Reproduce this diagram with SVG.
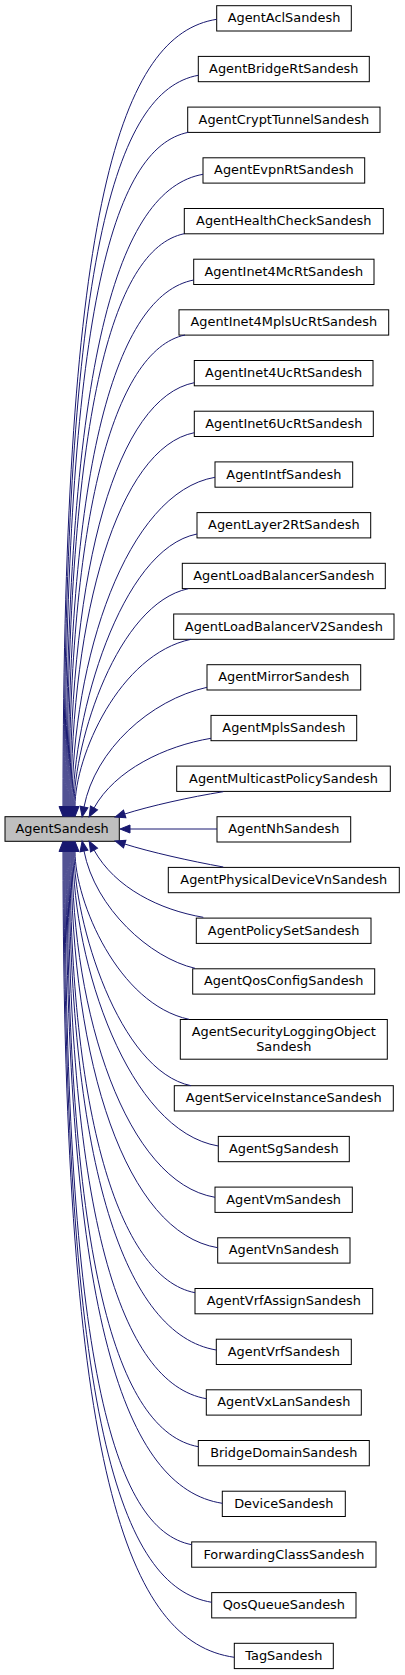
<svg xmlns="http://www.w3.org/2000/svg" width="405" height="1675" viewBox="0 0 405 1675">
<style>
.n rect{fill:#ffffff;stroke:#000000;stroke-width:1}
.n.main rect{fill:#bfbfbf}
.n text{font-family:"DejaVu Sans",sans-serif;font-size:12.9px;text-anchor:middle;fill:#000000}
.e path{fill:none;stroke:#191970;stroke-width:1;marker-end:url(#ah)}
</style>
<defs>
<marker id="ah" markerUnits="userSpaceOnUse" viewBox="0 -5 11 10" refX="0" refY="0" markerWidth="11" markerHeight="10" orient="auto" overflow="visible">
<path d="M0,-4 L10,0 L0,4 Z" fill="#191970" stroke="#191970" stroke-width="1"/>
</marker>
</defs>
<rect width="405" height="1675" fill="#ffffff"/>
<g id="nodes">
<g id="n_AgentSandesh" class="n main"><rect x="5" y="816.7" width="114.3" height="24.6"/><text x="62.1" y="833.2">AgentSandesh</text></g>
<g id="n0" class="n"><rect x="216.7" y="5.7" width="134.6" height="25.3"/><text x="284" y="22.35">AgentAclSandesh</text></g>
<g id="n1" class="n"><rect x="198.3" y="56.4" width="171" height="25.3"/><text x="283.8" y="73.05">AgentBridgeRtSandesh</text></g>
<g id="n2" class="n"><rect x="187.7" y="107.1" width="192.3" height="25.3"/><text x="283.85" y="123.75">AgentCryptTunnelSandesh</text></g>
<g id="n3" class="n"><rect x="203" y="157.8" width="161.7" height="25.3"/><text x="283.85" y="174.45">AgentEvpnRtSandesh</text></g>
<g id="n4" class="n"><rect x="184.3" y="208.5" width="199" height="25.3"/><text x="283.8" y="225.15">AgentHealthCheckSandesh</text></g>
<g id="n5" class="n"><rect x="193.7" y="259.2" width="180.3" height="25.3"/><text x="283.85" y="275.85">AgentInet4McRtSandesh</text></g>
<g id="n6" class="n"><rect x="179" y="309.8" width="209.7" height="25.3"/><text x="283.85" y="326.45">AgentInet4MplsUcRtSandesh</text></g>
<g id="n7" class="n"><rect x="194.3" y="360.5" width="178.7" height="25.3"/><text x="283.65" y="377.15">AgentInet4UcRtSandesh</text></g>
<g id="n8" class="n"><rect x="194.3" y="411.2" width="179" height="25.3"/><text x="283.8" y="427.85">AgentInet6UcRtSandesh</text></g>
<g id="n9" class="n"><rect x="215" y="461.9" width="137.7" height="25.3"/><text x="283.85" y="478.55">AgentIntfSandesh</text></g>
<g id="n10" class="n"><rect x="197" y="512.6" width="173.7" height="25.3"/><text x="283.85" y="529.25">AgentLayer2RtSandesh</text></g>
<g id="n11" class="n"><rect x="182.3" y="563.3" width="203" height="25.3"/><text x="283.8" y="579.95">AgentLoadBalancerSandesh</text></g>
<g id="n12" class="n"><rect x="173.7" y="614" width="220.3" height="25.3"/><text x="283.85" y="630.65">AgentLoadBalancerV2Sandesh</text></g>
<g id="n13" class="n"><rect x="207" y="664.7" width="153.7" height="25.3"/><text x="283.85" y="681.35">AgentMirrorSandesh</text></g>
<g id="n14" class="n"><rect x="211" y="715.4" width="145.7" height="25.3"/><text x="283.85" y="732.05">AgentMplsSandesh</text></g>
<g id="n15" class="n"><rect x="176.7" y="766.1" width="213.6" height="25.3"/><text x="283.5" y="782.75">AgentMulticastPolicySandesh</text></g>
<g id="n16" class="n"><rect x="217" y="816.7" width="133.7" height="25.3"/><text x="283.85" y="833.35">AgentNhSandesh</text></g>
<g id="n17" class="n"><rect x="168.3" y="867.4" width="231" height="25.3"/><text x="283.8" y="884.05">AgentPhysicalDeviceVnSandesh</text></g>
<g id="n18" class="n"><rect x="196.3" y="918.1" width="174.7" height="25.3"/><text x="283.65" y="934.75">AgentPolicySetSandesh</text></g>
<g id="n19" class="n"><rect x="192.7" y="968.8" width="182" height="25.3"/><text x="283.7" y="985.45">AgentQosConfigSandesh</text></g>
<g id="n20" class="n"><rect x="180.3" y="1019.5" width="207" height="39.7"/><text x="283.8" y="1036.2">AgentSecurityLoggingObject</text><text x="283.8" y="1050.8">Sandesh</text></g>
<g id="n21" class="n"><rect x="174.3" y="1085.7" width="219" height="25.3"/><text x="283.8" y="1102.35">AgentServiceInstanceSandesh</text></g>
<g id="n22" class="n"><rect x="218.3" y="1136.4" width="131" height="25.3"/><text x="283.8" y="1153.05">AgentSgSandesh</text></g>
<g id="n23" class="n"><rect x="215" y="1187.1" width="137.3" height="25.3"/><text x="283.65" y="1203.75">AgentVmSandesh</text></g>
<g id="n24" class="n"><rect x="217.7" y="1237.8" width="132.3" height="25.3"/><text x="283.85" y="1254.45">AgentVnSandesh</text></g>
<g id="n25" class="n"><rect x="195" y="1288.5" width="177.7" height="25.3"/><text x="283.85" y="1305.15">AgentVrfAssignSandesh</text></g>
<g id="n26" class="n"><rect x="216.3" y="1339.2" width="135" height="25.3"/><text x="283.8" y="1355.85">AgentVrfSandesh</text></g>
<g id="n27" class="n"><rect x="206.3" y="1389.8" width="155" height="25.3"/><text x="283.8" y="1406.45">AgentVxLanSandesh</text></g>
<g id="n28" class="n"><rect x="198.3" y="1440.5" width="171" height="25.3"/><text x="283.8" y="1457.15">BridgeDomainSandesh</text></g>
<g id="n29" class="n"><rect x="222.3" y="1491.2" width="123" height="25.3"/><text x="283.8" y="1507.85">DeviceSandesh</text></g>
<g id="n30" class="n"><rect x="191.7" y="1541.9" width="184.3" height="25.3"/><text x="283.85" y="1558.55">ForwardingClassSandesh</text></g>
<g id="n31" class="n"><rect x="211.7" y="1592.6" width="144.3" height="25.3"/><text x="283.85" y="1609.25">QosQueueSandesh</text></g>
<g id="n32" class="n"><rect x="234.3" y="1643.3" width="99" height="25.3"/><text x="283.8" y="1659.95">TagSandesh</text></g>
</g>
<g id="edges" class="e">
<path d="M216.7,19.3 C121.4,34.3 63,202.3 63,806.5"/>
<path d="M198.3,75.3 C115,90.3 64,258.3 64,806.5"/>
<path d="M188.5,132.3 C111.9,147.3 65,315.3 65,806.5"/>
<path d="M203,174.3 C118.1,189.3 66,357.3 66,806.5"/>
<path d="M184.3,233.7 C111.6,248.7 67,416.7 67,806.5"/>
<path d="M193.7,280 C115.8,295 68,463 68,806.5"/>
<path d="M185,335 C113.1,350 69,518 69,806.5"/>
<path d="M194.3,382.7 C117.2,397.7 70,565.7 70,806.5"/>
<path d="M194.3,432.7 C117.9,447.7 71,615.7 71,806.5"/>
<path d="M215,477.3 C126.3,492.3 72,660.3 72,806.5"/>
<path d="M197,534 C120.1,549 73,717 73,806.5"/>
<path d="M188.3,588.7 C117.4,603.7 74,741.2 74,806.5"/>
<path d="M191,639.3 C119.1,654.3 75,756.3 75,806.5"/>
<path d="M207,687.3 C150,700 95,750 84,807"/>
<path d="M211,738.3 C165,746 115,770 94,808"/>
<path d="M223.3,791.7 C190,797 150,806 124.7,814"/>
<path d="M217,829 L130,829"/>
<path d="M223.3,867 C190,861 150,852 124.7,844"/>
<path d="M203.3,917.3 C160,910 115,888 94,850"/>
<path d="M195,968.3 C150,958 95,908 84,851"/>
<path d="M189,1019.3 C118.3,1004.3 75,901.8 75,851.5"/>
<path d="M191,1085.7 C118.5,1070.7 74,921.8 74,851.5"/>
<path d="M218.3,1146 C128.2,1131 73,963 73,851.5"/>
<path d="M215,1197.3 C126.3,1182.3 72,1014.3 72,851.5"/>
<path d="M217.7,1247.7 C126.7,1232.7 71,1064.7 71,851.5"/>
<path d="M195,1292.7 C117.5,1277.7 70,1109.7 70,851.5"/>
<path d="M216.3,1350 C125,1335 69,1167 69,851.5"/>
<path d="M206.3,1398.7 C120.6,1383.7 68,1215.7 68,851.5"/>
<path d="M198.3,1446.7 C116.9,1431.7 67,1263.7 67,851.5"/>
<path d="M222.3,1503.3 C125.4,1488.3 66,1320.3 66,851.5"/>
<path d="M191.7,1544.7 C113.1,1529.7 65,1361.7 65,851.5"/>
<path d="M211.7,1602.3 C120.1,1587.3 64,1419.3 64,851.5"/>
<path d="M234.3,1657.3 C128.1,1642.3 63,1474.3 63,851.5"/>
</g>
</svg>
